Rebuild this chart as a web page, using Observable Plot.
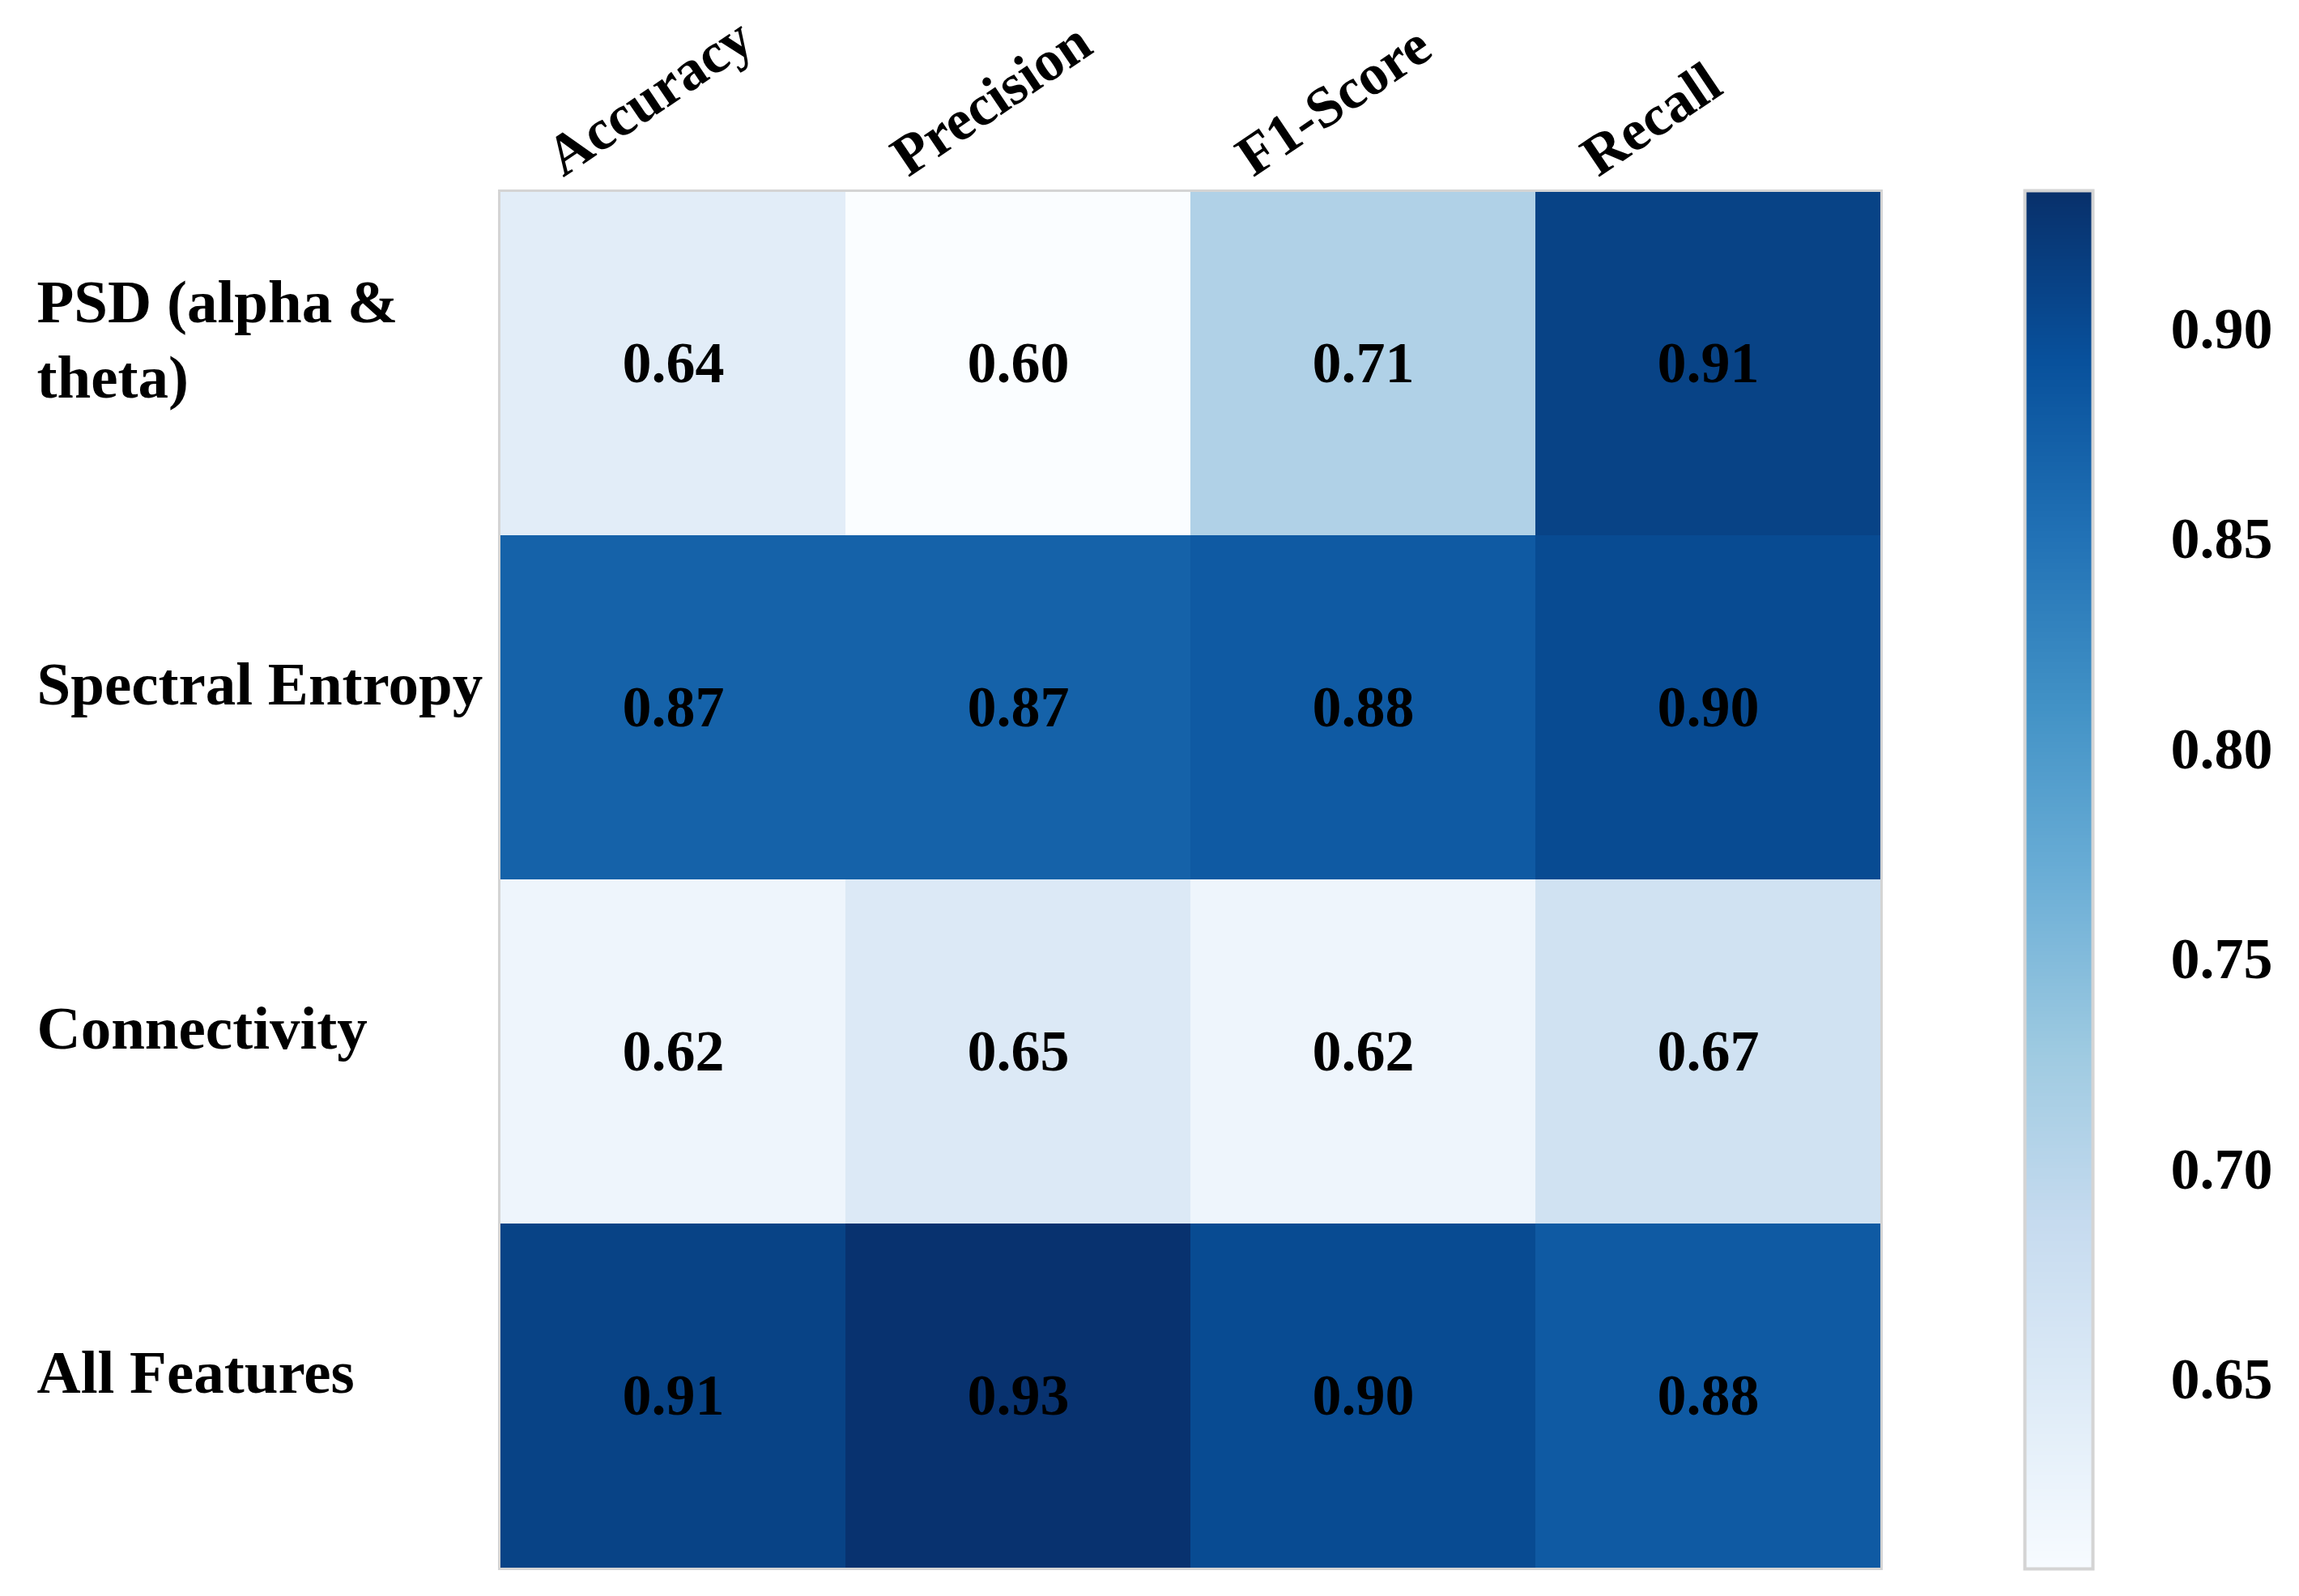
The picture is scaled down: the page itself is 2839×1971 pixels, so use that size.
<!DOCTYPE html>
<html>
<head>
<meta charset="utf-8">
<script src="https://cdn.jsdelivr.net/npm/d3@7"></script>
<script src="https://cdn.jsdelivr.net/npm/@observablehq/plot@0.6"></script>
<style>
  html, body { margin: 0; padding: 0; background: #ffffff; }
  #wrap { position: relative; width: 2839px; height: 1971px; background: #ffffff; }
  #main { position: absolute; left: 0; top: 0; }
  #bar { position: absolute; left: 2400px; top: 0; }
</style>
</head>
<body>
<div id="wrap"><div id="main"></div><div id="bar"></div></div>
<script>
// ---- data ----
const features = ["PSD (alpha & theta)", "Spectral Entropy", "Connectivity", "All Features"];
const featureLabels = ["PSD (alpha &\ntheta)", "Spectral Entropy", "Connectivity", "All Features"];
const metrics = ["Accuracy", "Precision", "F1-Score", "Recall"];
const psdValues = [0.64, 0.60, 0.71, 0.91];
const spectralValues = [0.87, 0.87, 0.88, 0.90];
const connectivityValues = [0.62, 0.65, 0.62, 0.67];
const allFeatureValues = [0.91, 0.93, 0.90, 0.88];
const colorbarTicks = [0.65, 0.70, 0.75, 0.80, 0.85, 0.90];
const colorDomain = [0.605, 0.933];

// matplotlib "Blues" control colors
const bluesStops = ["#f7fbff", "#deebf7", "#c6dbef", "#9ecae1", "#6baed6", "#4292c6", "#2171b5", "#08519c", "#08306b"];
const blues = d3.piecewise(d3.interpolateRgb, bluesStops);

const rows = [psdValues, spectralValues, connectivityValues, allFeatureValues];
const table = [];
rows.forEach((vals, i) => vals.forEach((v, j) => table.push({feature: features[i], metric: metrics[j], value: v})));
const labelRows = features.map((f, i) => ({feature: f, label: featureLabels[i]}));
const labelCols = metrics.map(m => ({metric: m}));

const FONT = "Liberation Serif, Times New Roman, serif";

const main = Plot.plot({
  width: 2400,
  height: 1971,
  marginLeft: 616,
  marginRight: 77,
  marginTop: 235,
  marginBottom: 34,
  style: {fontFamily: FONT, fontWeight: "bold", background: "#ffffff", color: "#000"},
  x: {domain: metrics, padding: 0, axis: null},
  y: {domain: features, padding: 0, axis: null},
  color: {type: "linear", domain: colorDomain, interpolate: blues},
  marks: [
    Plot.cell(table, {x: "metric", y: "feature", fill: "value", inset: 0, shapeRendering: "crispEdges"}),
    Plot.frame({stroke: "#d4d4d4", strokeWidth: 3}),
    Plot.text(table, {x: "metric", y: "feature", text: d => d.value.toFixed(2), fontSize: 72, fontWeight: "bold", fill: "#000"}),
    Plot.text(labelRows, {y: "feature", text: "label", frameAnchor: "left", dx: -571, dy: -34, textAnchor: "start", fontSize: 75, fontWeight: "bold", lineHeight: 1.24, fill: "#000"}),
    Plot.text(labelCols, {x: "metric", text: "metric", frameAnchor: "top", dx: -136, dy: -16, rotate: -34, textAnchor: "start", lineAnchor: "bottom", fontSize: 71, fontWeight: "bold", fill: "#000"})
  ]
});
document.getElementById("main").appendChild(main);

// colorbar
const nSteps = 400;
const step = (colorDomain[1] - colorDomain[0]) / nSteps;
const bands = d3.range(nSteps).map(i => ({y1: colorDomain[0] + i * step, y2: colorDomain[0] + (i + 1) * step, v: colorDomain[0] + (i + 0.5) * step}));

const bar = Plot.plot({
  width: 439,
  height: 1971,
  marginLeft: 100,
  marginRight: 255,
  marginTop: 235,
  marginBottom: 34,
  style: {fontFamily: FONT, fontWeight: "bold", background: "#ffffff", color: "#000", overflow: "visible"},
  y: {domain: colorDomain, axis: null},
  color: {type: "linear", domain: colorDomain, interpolate: blues},
  marks: [
    Plot.rect(bands, {y1: "y1", y2: "y2", fill: "v", shapeRendering: "crispEdges"}),
    Plot.frame({stroke: "#d4d4d4", strokeWidth: 4}),
    Plot.axisY(colorbarTicks, {anchor: "right", tickSize: 0, tickPadding: 96, tickFormat: d3.format(".2f"), fontSize: 72, fontWeight: "bold", label: null})
  ]
});
document.getElementById("bar").appendChild(bar);
</script>
</body>
</html>
